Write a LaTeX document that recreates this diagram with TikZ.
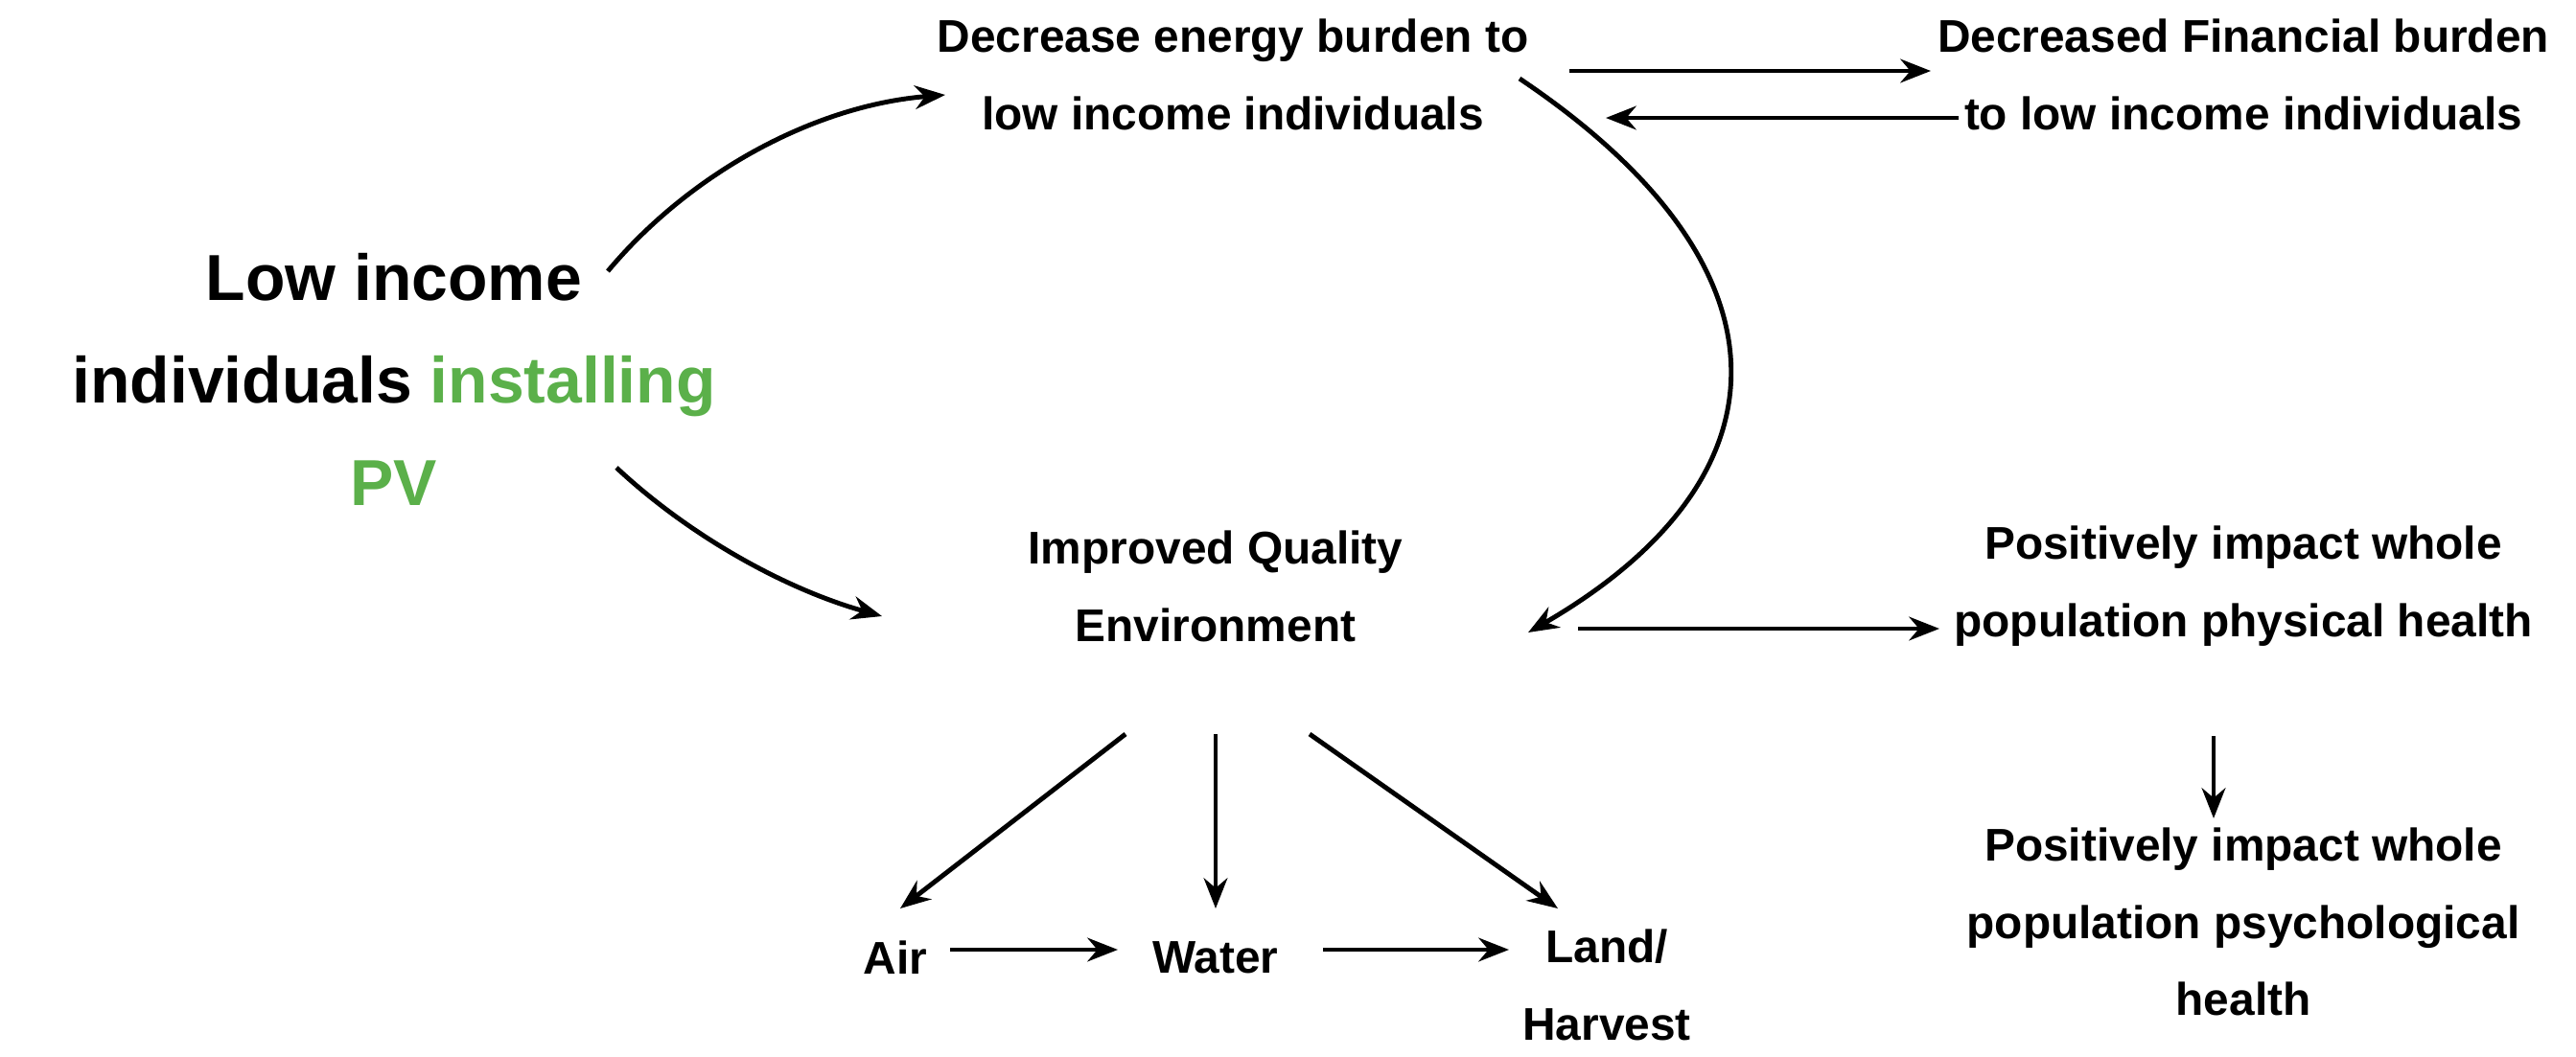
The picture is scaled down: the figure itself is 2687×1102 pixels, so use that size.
\documentclass[tikz,border=0pt]{standalone}
\usepackage{fontspec}
\setmainfont{Liberation Sans}
\usetikzlibrary{arrows.meta}
\definecolor{pvgreen}{HTML}{5BB04A}
\begin{document}
\begin{tikzpicture}[x=0.01cm,y=-0.01cm,
  lbl/.style={font=\bfseries\fontsize{13.6}{23}\selectfont,align=center,inner sep=0pt},
  big/.style={font=\bfseries\fontsize{19.3}{30.5}\selectfont,align=center,inner sep=0pt},
  arr/.style={-{Stealth[length=9pt,width=7pt]},line width=1.4pt}]
\useasboundingbox (0,0) rectangle (2687,1102);
\node[lbl] (dec) at (1286,78) {Decrease energy burden to\\low income individuals};
\node[lbl] (fin) at (2340,78) {Decreased Financial burden\\to low income individuals};
\node[big] (low) at (411,396) {Low income\\individuals \textcolor{pvgreen}{installing}\\\textcolor{pvgreen}{PV}};
\node[lbl] (imp) at (1268,612) {Improved Quality\\Environment};
\node[lbl] (phy) at (2340,612) {Positively impact whole\\population physical health};
\node[lbl] (psy) at (2340,962) {Positively impact whole\\population psychological\\health};
\node[lbl] (air) at (934,999) {Air};
\node[lbl] (wat) at (1268,999) {Water};
\node[lbl] (lan) at (1676,1028) {Land/\\Harvest};
\coordinate (a1) at (634,283); \coordinate (a2) at (986,99);
\coordinate (b1) at (643,488); \coordinate (b2) at (920,643);
\coordinate (c1) at (1637,74); \coordinate (c2) at (2014,74);
\coordinate (d1) at (2043,123); \coordinate (d2) at (1675,123);
\coordinate (e1) at (1585,82); \coordinate (e2) at (1594,660);
\coordinate (f1) at (1646,656); \coordinate (f2) at (2023,656);
\coordinate (g1) at (2309,768); \coordinate (g2) at (2309,854);
\coordinate (h1) at (1174,766); \coordinate (h2) at (939,948);
\coordinate (i1) at (1268,766); \coordinate (i2) at (1268,948);
\coordinate (j1) at (1366,766); \coordinate (j2) at (1625,948);
\coordinate (k1) at (991,991); \coordinate (k2) at (1166,991);
\coordinate (l1) at (1380,991); \coordinate (l2) at (1574,991);
\draw[arr] (a1) .. controls (720,180) and (850,110) .. (a2);
\draw[arr] (b1) .. controls (720,560) and (820,615) .. (b2);
\draw[arr] (c1) -- (c2);
\draw[arr] (d1) -- (d2);
\draw[arr] (e1) .. controls (1880,280) and (1870,500) .. (e2);
\draw[arr] (f1) -- (f2);
\draw[arr] (g1) -- (g2);
\draw[arr] (h1) -- (h2);
\draw[arr] (i1) -- (i2);
\draw[arr] (j1) -- (j2);
\draw[arr] (k1) -- (k2);
\draw[arr] (l1) -- (l2);
\end{tikzpicture}
\end{document}
